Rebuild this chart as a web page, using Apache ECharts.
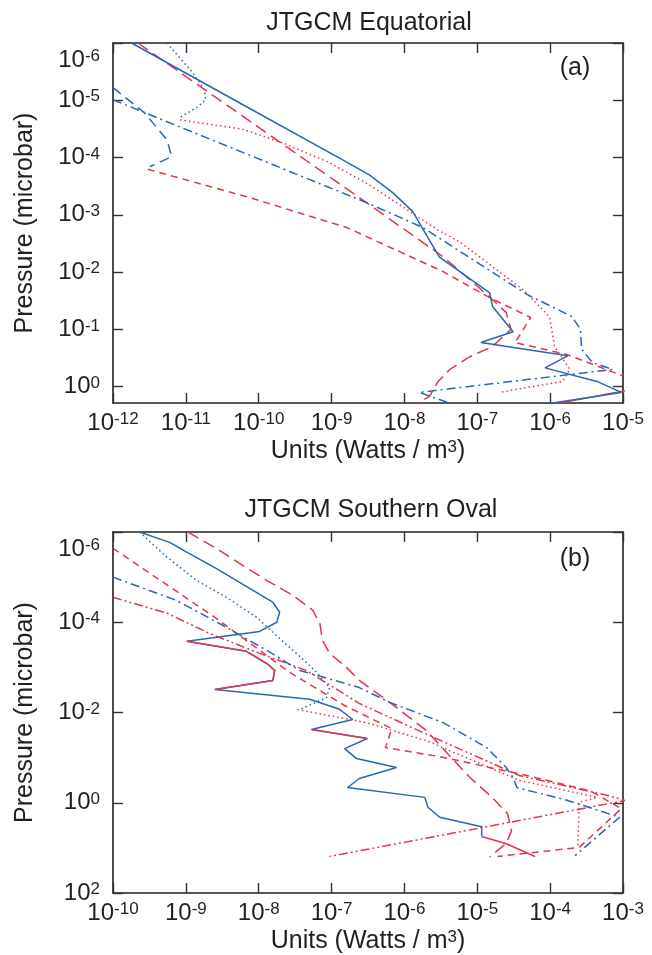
<!DOCTYPE html>
<html><head><meta charset="utf-8">
<script src="https://cdn.jsdelivr.net/npm/echarts@6/dist/echarts.min.js"></script>
<style>html,body{margin:0;padding:0;background:#fff;}#c{width:652px;height:955px;}</style>
</head><body><div id="c"></div>
<script>
// ---------------- data ----------------
const panelTitles = ['JTGCM Equatorial', 'JTGCM Southern Oval'];
const panelTags = ['(a)', '(b)'];
const xNameParts = ['Units (Watts / m', '3', ')'];
const yName = 'Pressure (microbar)';

const xRangeA = [1e-12, 1e-5];
const yRangeA = [1e-6, 1.93];
const xRangeB = [1e-10, 1e-3];
const yRangeB = [1e-6, 1e2];

const xTicksA = [1e-12, 1e-11, 1e-10, 1e-9, 1e-8, 1e-7, 1e-6, 1e-5];
const yTicksA = [1e-6, 1e-5, 1e-4, 1e-3, 1e-2, 1e-1, 1];
const xTicksB = [1e-10, 1e-9, 1e-8, 1e-7, 1e-6, 1e-5, 1e-4, 1e-3];
const yTicksB = [1e-6, 1e-4, 1e-2, 1, 1e2];

// Panel (a) profiles, [Watts/m3, microbar]
const aBlueSolid = [[1.8e-12,1e-6],[4.7e-11,1e-5],[1.25e-9,1e-4],[3.3e-9,2.0e-4],[6.9e-9,4.1e-4],[1.3e-8,8.8e-4],[1.74e-8,1.66e-3],[3.0e-8,5.4e-3],[1.48e-7,0.023],[1.62e-7,0.040],[3.1e-7,0.11],[1.12e-7,0.17],[1.74e-6,0.29],[8.5e-7,0.47],[4.4e-6,0.81],[9.5e-6,1.26],[9.8e-7,1.97]];
const aRedSolid = [[1.2e-5,1.15],[1.3e-6,1.95]];
const aBlueDotted = [[5.5e-12,1e-6],[1.24e-11,3.3e-6],[1.8e-11,6.5e-6],[1.87e-11,9.8e-6],[1.45e-11,1.3e-5],[8.3e-12,2.0e-5]];
const aRedDotted = [[8.3e-12,2.2e-5],[6.0e-11,3.2e-5],[2.1e-10,5.5e-5],[9.4e-10,1.23e-4],[3.3e-9,3.0e-4],[2.8e-8,1.8e-3],[5.8e-8,3.0e-3],[4.2e-7,0.020],[9.8e-7,0.060],[1.15e-6,0.20],[1.86e-6,0.50],[1.48e-6,0.81],[2.0e-7,1.26]];
const aBlueDashDot = [[1e-12,9.8e-6],[3.0e-9,6.1e-4],[1.78e-8,1.66e-3],[4.8e-7,0.0245],[2.0e-6,0.060],[2.6e-6,0.10],[2.7e-6,0.22],[3.8e-6,0.38],[7.2e-6,0.50],[1.6e-8,1.26],[4.2e-8,1.95]];
const aBlueDashed = [[1e-12,6.0e-6],[2.7e-12,1.65e-5],[5.5e-12,4.9e-5],[6.4e-12,9.6e-5],[3.2e-12,1.45e-4]];
const aRedLongDash = [[2.2e-12,1e-6],[3.0e-9,6.1e-4],[3.4e-8,5.4e-3],[7.9e-8,0.0135],[1.6e-7,0.030],[2.5e-7,0.051],[2.9e-7,0.10],[1.6e-7,0.20],[7.9e-8,0.30],[4.2e-8,0.50],[2.9e-8,0.81],[2.2e-8,1.48],[1.5e-8,1.97]];
const aRedShortDash = [[3.0e-12,1.6e-4],[7.5e-11,5.0e-4],[1.6e-9,1.66e-3],[8.6e-9,4.4e-3],[3.4e-8,9.8e-3],[1.48e-7,0.028],[5.4e-7,0.062],[3.3e-7,0.17],[1.7e-6,0.275],[1e-5,0.65]];

// Panel (b) profiles
const bBlueSolid = [[2.3e-10,1e-6],[6.0e-10,1.7e-6],[1.03e-9,2.8e-6],[2.6e-9,6.4e-6],[9.4e-9,2.2e-5],[1.56e-8,3.6e-5],[1.94e-8,6.0e-5],[1.77e-8,1.0e-4],[1.03e-8,1.6e-4],[1.03e-9,2.65e-4],[6.8e-9,4.4e-4],[1.33e-8,8.5e-4],[1.66e-8,1.17e-3],[1.56e-8,1.95e-3],[2.5e-9,3.1e-3],[5.0e-8,5.1e-3],[1.29e-7,8.5e-3],[1.95e-7,0.0143],[5.3e-8,0.0237],[3.1e-7,0.0376],[1.51e-7,0.063],[2.2e-7,0.105],[7.8e-7,0.166],[2.4e-7,0.29],[1.66e-7,0.46],[1.9e-6,0.76],[2.1e-6,1.26],[3.05e-6,2.1],[1.15e-5,3.4],[1.15e-5,5.6]];
const bRedSolid = [[1.03e-9,2.65e-4],[6.8e-9,4.4e-4],[1.33e-8,8.5e-4],[1.66e-8,1.17e-3],[1.56e-8,1.95e-3],[2.5e-9,3.1e-3],null,[5.3e-8,0.0237],[3.1e-7,0.0376],null,[1.15e-5,5.6],[2.5e-5,8.1],[6.2e-5,15.5]];
const bBlueDotted = [[2.3e-10,1e-6],[5.5e-10,3.6e-6],[1.4e-9,1.18e-5],[3.6e-9,2.8e-5],[9.4e-9,7.8e-5],[1.94e-8,2.3e-4],[3.65e-8,5.7e-4],[5.9e-8,1.17e-3],[9.4e-8,2.8e-3],[8.5e-8,4.7e-3],[3.65e-8,8.6e-3]];
const bRedDotted = [[3.4e-8,8.6e-3],[3.0e-7,0.0168],[2.0e-6,0.042],[3.8e-5,0.32],[4.4e-4,0.76],[2.5e-4,0.98],[2.4e-4,9.8]];
const bBlueDashDot = [[1e-10,1.0e-5],[7.5e-10,3.3e-5],[3.6e-9,1.3e-4],[1.29e-8,4.2e-4],[3.65e-8,1.17e-3],[2.4e-7,2.8e-3],[6.3e-7,6.0e-3],[3.4e-6,0.0168],[1.35e-5,0.060],[2.5e-5,0.166],[3.1e-5,0.275],[3.5e-5,0.46],[1.7e-4,0.88],[9.0e-4,2.1],[2.2e-4,14.8]];
const bRedLongDash = [[1.07e-9,1e-6],[2.6e-9,2.3e-6],[6.0e-9,5.5e-6],[1.29e-8,1.18e-5],[2.9e-8,2.5e-5],[5.5e-8,5.4e-5],[6.9e-8,1.06e-4],[7.5e-8,2.5e-4],[9.4e-8,4.9e-4],[1.6e-7,1e-3],[2.4e-7,1.95e-3],[6.3e-7,6.0e-3],[2.0e-6,0.025],[3.9e-6,0.081],[7.9e-6,0.275],[1.6e-5,0.76],[2.6e-5,1.74],[2.95e-5,4.2],[2.5e-5,7.9],[1.48e-5,16]];
const bRedShortDash = [[1e-10,2.3e-6],[2.5e-9,7.8e-5],[2.66e-8,1.29e-3],[1.51e-7,7.0e-3],[6.7e-7,0.0228],[5.5e-7,0.060],[3.05e-6,0.095],[4.8e-5,0.25],[3.5e-4,0.54],[9.5e-4,1.35],[2.5e-4,9.8],[1.9e-5,15.5]];
const bRedDashDotDot = [[1e-10,2.8e-5],[5.5e-10,6.3e-5],[2.1e-9,1.76e-4],[1.03e-8,4.9e-4],[4.5e-8,1.17e-3],[2.4e-7,6.3e-3],[2.75e-6,0.038],[3.8e-5,0.25],[6.2e-4,0.69],[1.07e-3,0.89],[9.4e-8,15.5]];

// ---------------- styling ----------------
const FONT = '"Liberation Sans", Arial, Helvetica, sans-serif';
const INK = '#231f20';
const BLUE = '#2369b5';
const RED = '#e8334b';
const DASH = {
  solid: 'solid', dotted: [1.5, 3], longDash: [12, 6], shortDash: [7, 5],
  dashed: [10, 6], dashDot: [9, 4, 2, 4], dashDotDot: [9, 3, 2, 3, 2, 3]
};

const rich = {
  b: { fontSize: 24, lineHeight: 24, fontFamily: FONT, color: INK },
  s: { fontSize: 17, lineHeight: 17, fontFamily: FONT, color: INK, padding: [0, 0, 7, 0] },
  bt: { fontSize: 24, lineHeight: 24, fontFamily: FONT, color: INK, padding: [34, 0, 0, 0] },
  st: { fontSize: 17, lineHeight: 17, fontFamily: FONT, color: INK, padding: [34, 0, 7, 0] }
};

function isTick(v, ticks) {
  return ticks.some(t => Math.abs(Math.log10(t) - Math.log10(v)) < 1e-6);
}
function makeFormatter(ticks, topVal) {
  return function (v) {
    if (!isTick(v, ticks)) return '';
    const e = Math.round(Math.log10(v));
    if (topVal != null && Math.abs(Math.log10(v) - Math.log10(topVal)) < 1e-6) {
      return '{bt|10}{st|' + e + '}';
    }
    return '{b|10}{s|' + e + '}';
  };
}

const axisLine = { show: true, onZero: false, lineStyle: { color: INK, width: 1.6 } };
function tickCfg(ticks) {
  return { show: true, inside: true, length: 10, customValues: ticks, lineStyle: { color: '#333', width: 1.4 } };
}

function xAxes(gi, range, ticks) {
  return [
    {
      type: 'log', gridIndex: gi, position: 'bottom', min: range[0], max: range[1],
      axisLine, axisTick: tickCfg(ticks), splitLine: { show: false }, minorTick: { show: false },
      axisLabel: { show: true, margin: 8, customValues: ticks, formatter: makeFormatter(ticks, null), rich },
      name: '{n|' + xNameParts[0] + '}{p|' + xNameParts[1] + '}{n|' + xNameParts[2] + '}',
      nameLocation: 'middle', nameGap: 36,
      nameTextStyle: {
        rich: {
          n: { fontSize: 25, lineHeight: 25, fontFamily: FONT, color: INK },
          p: { fontSize: 17, lineHeight: 17, fontFamily: FONT, color: INK, padding: [0, 0, 8, 0] }
        }
      }
    },
    {
      type: 'log', gridIndex: gi, position: 'top', min: range[0], max: range[1],
      axisLine, axisTick: tickCfg(ticks), splitLine: { show: false }, axisLabel: { show: false }
    }
  ];
}
function yAxes(gi, range, ticks, base) {
  return [
    {
      type: 'log', logBase: base, gridIndex: gi, position: 'left', inverse: true, min: range[0], max: range[1],
      axisLine, axisTick: tickCfg(ticks), splitLine: { show: false }, minorTick: { show: false },
      axisLabel: { show: true, margin: 13, customValues: ticks, formatter: makeFormatter(ticks, range[0]), rich },
      name: yName, nameLocation: 'middle', nameGap: 75,
      nameTextStyle: { fontSize: 25, fontFamily: FONT, color: INK }
    },
    {
      type: 'log', logBase: base, gridIndex: gi, position: 'right', inverse: true, min: range[0], max: range[1],
      axisLine, axisTick: tickCfg(ticks), splitLine: { show: false }, axisLabel: { show: false }
    }
  ];
}

function line(name, data, xi, yi, color, dash) {
  return {
    type: 'line', name, data, xAxisIndex: xi, yAxisIndex: yi,
    showSymbol: false, symbol: 'none', clip: true, connectNulls: false,
    lineStyle: { color, width: 1.5, type: dash }, emphasis: { disabled: true }, silent: true
  };
}

const option = {
  animation: false,
  backgroundColor: '#fff',
  textStyle: { fontFamily: FONT },
  grid: [
    { left: 113, top: 43, width: 510, height: 360, containLabel: false, outerBoundsMode: 'none' },
    { left: 113, top: 532, width: 510, height: 361, containLabel: false, outerBoundsMode: 'none' }
  ],
  xAxis: [...xAxes(0, xRangeA, xTicksA), ...xAxes(1, xRangeB, xTicksB)],
  yAxis: [...yAxes(0, yRangeA, yTicksA, 10), ...yAxes(1, yRangeB, yTicksB, 100)],
  graphic: [
    { type: 'text', x: 369, y: 23, style: { text: panelTitles[0], font: '25px ' + FONT, fill: INK, textAlign: 'center', textVerticalAlign: 'middle' } },
    { type: 'text', x: 371, y: 510, style: { text: panelTitles[1], font: '25px ' + FONT, fill: INK, textAlign: 'center', textVerticalAlign: 'middle' } },
    { type: 'text', x: 575, y: 68, style: { text: panelTags[0], font: '25px ' + FONT, fill: INK, textAlign: 'center', textVerticalAlign: 'middle' } },
    { type: 'text', x: 575, y: 559, style: { text: panelTags[1], font: '25px ' + FONT, fill: INK, textAlign: 'center', textVerticalAlign: 'middle' } }
  ],
  series: [
    line('a red solid', aRedSolid, 0, 0, RED, DASH.solid),
    line('a blue dotted', aBlueDotted, 0, 0, BLUE, DASH.dotted),
    line('a red dotted', aRedDotted, 0, 0, RED, DASH.dotted),
    line('a blue dashed', aBlueDashed, 0, 0, BLUE, DASH.dashed),
    line('a red short dash', aRedShortDash, 0, 0, RED, DASH.shortDash),
    line('a red long dash', aRedLongDash, 0, 0, RED, DASH.longDash),
    line('a blue dash dot', aBlueDashDot, 0, 0, BLUE, DASH.dashDot),
    line('a blue solid', aBlueSolid, 0, 0, BLUE, DASH.solid),

    line('b blue solid', bBlueSolid, 2, 2, BLUE, DASH.solid),
    line('b red solid', bRedSolid, 2, 2, RED, DASH.solid),
    line('b blue dotted', bBlueDotted, 2, 2, BLUE, DASH.dotted),
    line('b red dotted', bRedDotted, 2, 2, RED, DASH.dotted),
    line('b red long dash', bRedLongDash, 2, 2, RED, DASH.longDash),
    line('b red short dash', bRedShortDash, 2, 2, RED, DASH.shortDash),
    line('b red dash dot dot', bRedDashDotDot, 2, 2, RED, DASH.dashDotDot),
    line('b blue dash dot', bBlueDashDot, 2, 2, BLUE, DASH.dashDot)
  ]
};

const chart = echarts.init(document.getElementById('c'), null, { renderer: 'canvas' });
chart.setOption(option);
</script>
</body></html>
